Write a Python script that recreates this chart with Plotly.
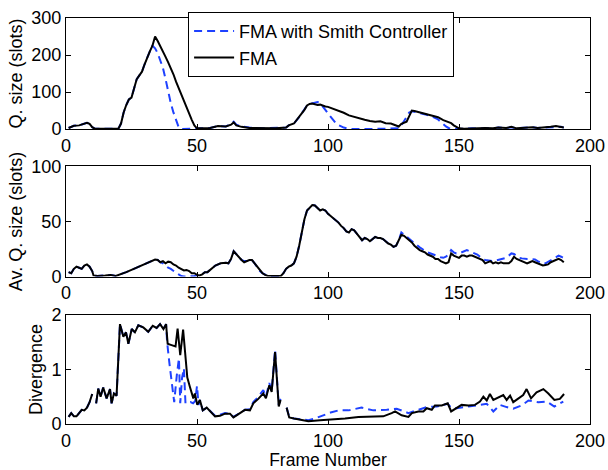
import plotly.graph_objects as go

# ---------------- data ----------------
# Top panel: queue size (slots)
q_fma_x = [1,3,5,7,8,9,10,11,15,20,21,22,23,24,25,26,27,28,29,30,31,32,33,34,35,36,37,38,39,40,41,42,43,44,45,46,47,48,49,50,
           52,55,58,61,63,64,65,67,70,75,80,84,85,87,89,91,92,93,94,95,96,97,98,99,100,102,104,106,108,110,112,114,116,118,120,
           122,124,126,127,128,129,130,131,132,133,134,136,138,140,142,144,146,147,148,149,150,152,155,158,160,163,165,168,170,
           172,175,178,180,183,185,187,189,190]
q_fma_y = [3,9,10,14,17,14,5,1,1,1,15,45,65,80,85,110,135,145,155,175,195,210,225,250,238,225,212,195,180,165,148,128,110,92,75,
           58,42,25,10,2,2,3,8,7,12,18,10,6,3,2,2,4,10,15,32,52,64,68,69,67,65,66,63,61,60,55,50,44,37,33,27,25,22,20,21,16,15,10,
           7,14,17,20,35,50,49,47,44,40,36,32,24,18,16,10,5,2,1,2,1,3,2,4,3,6,2,3,5,3,4,6,8,6,4]

q_smith_x = [1,3,5,7,8,9,10,11,15,20,21,22,23,24,25,26,27,28,29,30,31,32,33,34,35,36,37,38,39,40,41,42,43,44,46,48,50,
             52,55,58,61,63,64,65,67,70,75,80,84,85,87,89,91,92,93,94,95,96,97,98,99,100,101,102,103,104,105,106,108,
             110,115,120,124,126,127,128,129,130,131,132,134,136,138,140,142,143,144,145,146,147,150,152,155,158,160,163,
             165,168,170,172,175,178,180,183,185,187,189,190]
q_smith_y = [3,9,10,14,17,14,5,1,1,1,15,45,65,80,85,110,135,145,155,175,195,210,225,218,205,185,165,135,100,70,45,22,5,0,0,0,1,
             2,3,8,7,14,20,12,7,4,2,2,4,10,15,32,52,64,68,70,72,73,70,62,52,42,33,24,16,11,7,4,1,
             0,0,1,2,1,2,10,20,33,45,48,45,42,38,33,26,20,13,7,3,1,0,1,2,1,3,2,4,3,5,2,3,5,3,4,6,7,6,4]

# Middle panel: average queue size (slots)
av_fma_x = [1,2,3,4,5,6,7,8,9,10,10.5,12,15,17,19,21,23,25,27,29,31,33,34,35,36,37,38,39,40,41,42,43,44,45,46,47,48,49,50,
            51,52,53,54,55,57,59,61,62,63,64,65,66,67,68,69,70,71,72,73,74,75,76,77,80,82,83,84,85,86,87,88,89,90,91,92,93,
            94,95,96,97,98,99,100] + list(range(101, 191))
av_fma_y = [4,3,7,9,8,7,10,11,9,5,1,0.5,1,1.5,0.5,2,4,6,8,10,12,14,15.5,15,13,14,12,13.5,13,11,10,8,7,5.5,6,5,3,3,1.5,
            1,2,4,4,6,10,12,12.5,12,16,23,20,17,15,13,14,15,15,12,8,5,3,1.5,0.5,0.5,0.5,3,7,9,10,12,18,28,40,52,60,63,
            65,64.5,62,60,61,60,57,
            55,53,51,49,46,44,41,40,43,42, 39,36,33,35,34,32,34,36,35,35, 34,32,30,29,27,28,33,38,37,35,
            33,31,28,26,24,23,22,20,19,18, 16,16,14,13,12,13,21,19,18,17, 19,19,18,19,19,18,17,16,15,12,
            13,14,12,13,12,13,12,12,12,14, 18,16,15,14,13,12,13,14,13,12, 11,10,10.5,11,13,14,15,16,15,13]

av_smith_x = [1,2,3,4,5,6,7,8,9,10,10.5,12,15,17,19,21,23,25,27,29,31,33,34,35,36,37,38,39,40,41,42,43,44,45,47,49,50,
              51,52,53,54,55,57,59,61,62,63,64,65,66,67,68,69,70,71,72,73,74,75,76,77,80,82,83,84,85,86,87,88,89,90,91,
              92,93,94,95,96,97,98,99,100] + list(range(101, 191))
av_smith_y = [4,3,7,9,8,7,10,11,9,5,1,0.5,1,1.5,0.5,2,4,6,8,10,12,14,15.5,15,13,12,10,8,7,5,3.5,2,0.5,0,0,0.5,1,
              1,2,4,4,6,10,12,12.5,12,16,23,20,17,15,14,14,15,15,12,8,5,3,1.5,0.5,0.5,0.5,3,7,9,10,12,18,28,40,52,
              60,63,65,64.5,62,60,61,60,57,
              55,53,51,49,46,44,41,40,43,42, 39,36,33,35,34,32,34,36,35,35, 34,32,30,29,27,28,33,
              40,38,36,34,32,30,28,26.5,25,23, 22,21,20.5,19,18,17.5,17,18,20,24, 22,21,21,22,23,24,23,22,21,20,
              18,16,15,14.5,14,14,14.5,15,15.5,16, 17,19,21,20.5,19,17,16.5,16,16,16, 16,15.5,14,12.5,11.6,12,13,14.6,16,17.5,
              19,18,16.7]

# Bottom panel: divergence
div_fma_x = [1,2,3,4,5,6,7,8,9,10,10.5,11.5,12.3,13.2,14.2,15.5,16.8,17.4,18.3,19.3,20.6,21.9,22.9,23.8,25.1,26.3,27.6,29.5,
             31.4,33.1,34.6,35.9,37.2,38.2,38.8,40,41,41.8,42.6,43.6,44.7,45.5,46.3,47.3,48,48.6,49.2,50.1,51.1,52.2,53.7,
             55.6,56.9,58.8,60.7,62.6,63.9,66.4,68.3,70.2,71.5,73.4,75.3,76.3,77.6,78.5,79.8,80.7,81.2,81.9,83,84.2,85.2,87,
             89.3,92.5,97,100.8,106.5,111.6,117.9,121.1,124.3,125.6,128.1,130.7,132,134.5,136.4,137.7,139.6,140.8,143.4,
             145.7,147,149.1,151,153.6,156.1,158,159.3,160.6,161.8,163.1,165,166.9,168.2,169.5,170.7,172.6,174.5,175.8,
             177.5,179.6,182.2,184.1,186.4,188.5,190.1]
div_fma_y = [0.13,0.2,0.14,0.14,0.2,0.26,0.25,0.3,0.4,0.55,None,0.38,0.65,0.5,0.67,0.47,0.64,0.38,0.56,0.52,1.83,1.6,1.68,
             1.47,1.74,1.68,1.81,1.77,1.69,1.8,1.76,1.83,1.74,1.83,1.47,1.45,1.44,1.42,1.75,1.26,1.73,1.2,0.85,0.68,0.58,
             0.47,0.56,0.35,0.44,0.25,0.3,0.2,0.14,0.15,0.19,0.19,0.12,0.2,0.26,0.25,0.38,0.46,0.56,0.47,0.71,0.59,1.32,
             0.68,0.32,0.44,None,0.3,0.12,0.1,0.08,0.05,0.07,0.08,0.1,0.13,0.14,0.14,0.2,0.23,0.16,0.13,0.2,0.23,0.23,
             0.29,0.26,0.34,0.34,0.38,0.23,0.29,0.35,0.34,0.35,0.41,0.5,0.43,0.55,0.44,0.49,0.53,0.44,0.52,0.4,0.47,
             0.53,0.64,0.47,0.58,0.64,0.56,0.44,0.46,0.55]

div_smith_x = [1,2,3,4,5,6,7,8,9,10,10.5,11.5,12.3,13.2,14.2,15.5,16.8,17.4,18.3,19.3,20.6,21.9,22.9,23.8,25.1,26.3,27.6,
               29.5,31.4,33.1,34.6,35.9,37.2,38.2,38.6,39.5,40.3,41.3,42.3,43.1,43.6,44.3,45,45.6,46.5,47.5,48.5,49.3,50,
               50.6,51.1,52.2,53.7,55.6,56.9,58.8,60.7,62.6,63.9,66.4,68.3,70.2,71.5,73.4,75.3,76.3,77.6,78.5,79.8,80.7,
               81.2,81.9,83,84.2,85.2,87,89.3,92.5,95,97,99,101,104,107.8,112.8,117.3,122.4,126.2,130.7,133.8,137.7,141.5,
               145.7,147,149.1,153.6,157.4,160.6,163.1,165.6,168.2,170.7,173.9,176.5,180.3,183.5,186.4,189.8]
div_smith_y = [0.13,0.2,0.14,0.14,0.2,0.26,0.25,0.3,0.4,0.55,None,0.38,0.65,0.5,0.67,0.47,0.64,0.38,0.56,0.52,1.83,1.6,
               1.68,1.47,1.74,1.68,1.81,1.77,1.69,1.8,1.76,1.83,1.74,1.83,1.5,1.1,0.8,0.4,0.9,1.2,0.38,0.85,1.02,0.38,
               0.38,0.4,0.38,0.42,0.7,0.35,0.44,0.25,0.3,0.2,0.15,0.17,0.2,0.19,0.13,0.2,0.26,0.27,0.4,0.5,0.62,0.5,
               0.75,0.6,1.36,0.7,0.35,0.47,None,0.3,0.13,0.1,0.09,0.07,0.1,0.14,0.18,0.21,0.25,0.25,0.3,0.25,0.26,0.28,
               0.2,0.25,0.31,0.32,0.37,0.3,0.29,0.32,0.34,0.37,0.23,0.35,0.31,0.28,0.34,0.43,0.4,0.41,0.32,0.41]

series_names = ["FMA with Smith Controller", "FMA"]
x_ticks = [0, 50, 100, 150, 200]
q_ticks = [0, 100, 200, 300]
av_ticks = [0, 50, 100]
div_ticks = [0, 1, 2]

# ---------------- figure ----------------
BLUE = "rgb(30,65,255)"
FONT = "Liberation Sans, Arial, Helvetica, sans-serif"

fig = go.Figure()

panels = [
    ("x3", "y3", q_smith_x, q_smith_y, q_fma_x, q_fma_y, True),
    ("x2", "y2", av_smith_x, av_smith_y, av_fma_x, av_fma_y, False),
    ("x", "y", div_smith_x, div_smith_y, div_fma_x, div_fma_y, False),
]
for xa, ya, sx, sy, fx, fy, leg in panels:
    fig.add_trace(go.Scatter(x=sx, y=sy, mode="lines", name=series_names[0], xaxis=xa, yaxis=ya,
                             line=dict(color=BLUE, width=2, dash="8px,5px"), showlegend=leg, hoverinfo="skip"))
    fig.add_trace(go.Scatter(x=fx, y=fy, mode="lines", name=series_names[1], xaxis=xa, yaxis=ya,
                             line=dict(color="black", width=2), showlegend=leg, hoverinfo="skip"))

axis_common = dict(showline=True, linecolor="black", linewidth=1, mirror="ticks", ticks="inside",
                   ticklen=5, tickcolor="black", tickwidth=1, showgrid=False, zeroline=False,
                   automargin=False, tickfont=dict(size=18, color="black", family=FONT))

fig.update_layout(
    width=608, height=470,
    margin=dict(l=66, r=18, t=12, b=46),
    paper_bgcolor="white", plot_bgcolor="white",
    font=dict(family=FONT, size=18, color="black"),
    xaxis=dict(domain=[0, 1], anchor="y", range=[0, 200], tickvals=x_ticks, **axis_common,
               title=dict(text="Frame Number", font=dict(size=17.5), standoff=4)),
    xaxis2=dict(domain=[0, 1], anchor="y2", range=[0, 200], tickvals=x_ticks, **axis_common),
    xaxis3=dict(domain=[0, 1], anchor="y3", range=[0, 200], tickvals=x_ticks, **axis_common),
    yaxis=dict(domain=[0, 0.2688], anchor="x", range=[0, 2], tickvals=div_ticks, **axis_common,
               title=dict(text="Divergence", font=dict(size=18), standoff=4)),
    yaxis2=dict(domain=[0.3632, 0.6344], anchor="x2", range=[0, 100], tickvals=av_ticks, **axis_common,
                title=dict(text="Av. Q. size (slots)", font=dict(size=18), standoff=4)),
    yaxis3=dict(domain=[0.7264, 1.0], anchor="x3", range=[0, 300], tickvals=q_ticks, **axis_common,
                title=dict(text="Q. size (slots)", font=dict(size=18), standoff=4)),
    legend=dict(x=0.233, y=1.015, xanchor="left", yanchor="top", bgcolor="white",
                bordercolor="black", borderwidth=1, font=dict(size=18, color="black", family=FONT),
                tracegroupgap=0, itemwidth=40),
    showlegend=True,
)

fig.write_html("out.html")
